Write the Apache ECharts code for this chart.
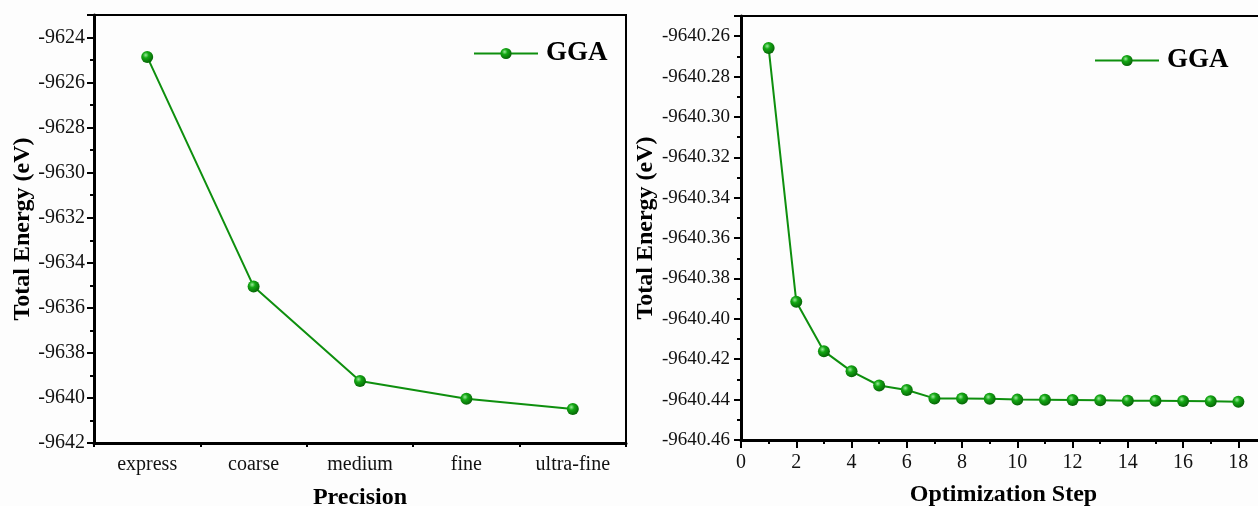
<!DOCTYPE html>
<html>
<head>
<meta charset="utf-8">
<script src="https://cdn.jsdelivr.net/npm/echarts@6/dist/echarts.min.js"></script>
<style>
  html, body { margin: 0; padding: 0; background: #fdfdfd; }
  #chart { width: 1258px; height: 506px; }
</style>
</head>
<body>
<div id="chart"></div>
<script>
// left panel: energy vs precision setting
const precisionCats = ['express', 'coarse', 'medium', 'fine', 'ultra-fine']
const precisionEnergy = [-9624.86, -9635.05, -9639.25, -9640.04, -9640.49]

// right panel: energy vs optimization step
const steps = [1, 2, 3, 4, 5, 6, 7, 8, 9, 10, 11, 12, 13, 14, 15, 16, 17, 18]
const stepEnergy = [-9640.2658, -9640.3915, -9640.4160, -9640.4260, -9640.4330, -9640.4352,
  -9640.4394, -9640.4395, -9640.4396, -9640.4400, -9640.4401, -9640.4402, -9640.4403,
  -9640.4405, -9640.4406, -9640.4407, -9640.4408, -9640.4410]

const serif = "'Liberation Serif', 'Times New Roman', serif"
const green = '#0e8f0e'
const ball = {
  type: 'radial', x: 0.38, y: 0.35, r: 0.7,
  colorStops: [
    { offset: 0, color: '#9be89b' },
    { offset: 0.35, color: '#14a814' },
    { offset: 1, color: '#055f05' }
  ]
}
const titleFont = { fontFamily: serif, fontWeight: 'bold', fontSize: 24, color: '#000' }

function yAxisStyle(gridIndex, min, max, interval, fmt, nameGap, fontSize, margin) {
  return {
    gridIndex, type: 'value', min, max, interval,
    name: 'Total Energy (eV)', nameLocation: 'middle', nameGap,
    nameTextStyle: titleFont,
    axisLine: { show: true, lineStyle: { color: '#000', width: 3 } },
    axisTick: { show: true, length: 7, lineStyle: { color: '#000', width: 2 } },
    minorTick: { show: true, splitNumber: 2, length: 4, lineStyle: { color: '#000', width: 2 } },
    splitLine: { show: false },
    axisLabel: { fontFamily: serif, fontSize, color: '#111', margin, showMaxLabel: false, formatter: fmt }
  }
}

const option = {
  backgroundColor: '#fdfdfd',
  animation: false,
  grid: [
    { left: 94, top: 15, width: 532, height: 428, outerBoundsMode: 'none', show: true, borderColor: '#000', borderWidth: 2, backgroundColor: 'transparent' },
    { left: 741, top: 16, width: 525, height: 424, outerBoundsMode: 'none', show: true, borderColor: '#000', borderWidth: 2, backgroundColor: 'transparent' }
  ],
  legend: [
    {
      left: 468, top: 35, itemWidth: 64, itemHeight: 14, seriesIndex: 0,
      data: ['GGA'],
      textStyle: { fontFamily: serif, fontWeight: 'bold', fontSize: 27, color: '#000', padding: [0, 0, 0, 3] }
    },
    {
      left: 1089, top: 42, itemWidth: 64, itemHeight: 14,
      data: ['GGA'],
      textStyle: { fontFamily: serif, fontWeight: 'bold', fontSize: 27, color: '#000', padding: [0, 0, 0, 3] }
    }
  ],
  xAxis: [
    {
      gridIndex: 0, type: 'category', data: precisionCats, boundaryGap: true,
      name: 'Precision', nameLocation: 'middle', nameGap: 43,
      nameTextStyle: titleFont,
      axisLine: { lineStyle: { color: '#000', width: 3 } },
      axisTick: { show: true, length: 4, alignWithLabel: false, lineStyle: { color: '#000', width: 2 } },
      axisLabel: { fontFamily: serif, fontSize: 20, color: '#111', margin: 12 }
    },
    {
      gridIndex: 1, type: 'value', min: 0, max: 19, interval: 2,
      name: 'Optimization Step', nameLocation: 'middle', nameGap: 43,
      nameTextStyle: titleFont,
      axisLine: { lineStyle: { color: '#000', width: 3 } },
      axisTick: { show: true, length: 8, lineStyle: { color: '#000', width: 2 } },
      minorTick: { show: true, splitNumber: 2, length: 4, lineStyle: { color: '#000', width: 2 } },
      splitLine: { show: false },
      axisLabel: {
        fontFamily: serif, fontSize: 20, color: '#111', margin: 13,
        formatter: v => (v % 2 === 0 ? String(v) : '')
      }
    }
  ],
  yAxis: [
    yAxisStyle(0, -9642, -9623, 2, v => String(v), 58, 20, 9),
    yAxisStyle(1, -9640.46, -9640.25, 0.02, v => v.toFixed(2), 81, 19, 11)
  ],
  series: [
    {
      name: 'GGA', type: 'line', xAxisIndex: 0, yAxisIndex: 0,
      data: precisionEnergy,
      symbol: 'circle', symbolSize: 12,
      lineStyle: { color: green, width: 2 },
      itemStyle: { color: ball, borderWidth: 0 }
    },
    {
      name: 'GGA', type: 'line', xAxisIndex: 1, yAxisIndex: 1,
      data: steps.map((s, i) => [s, stepEnergy[i]]),
      symbol: 'circle', symbolSize: 12,
      lineStyle: { color: green, width: 2 },
      itemStyle: { color: ball, borderWidth: 0 }
    }
  ]
}

const chart = echarts.init(document.getElementById('chart'))
chart.setOption(option)
</script>
</body>
</html>
